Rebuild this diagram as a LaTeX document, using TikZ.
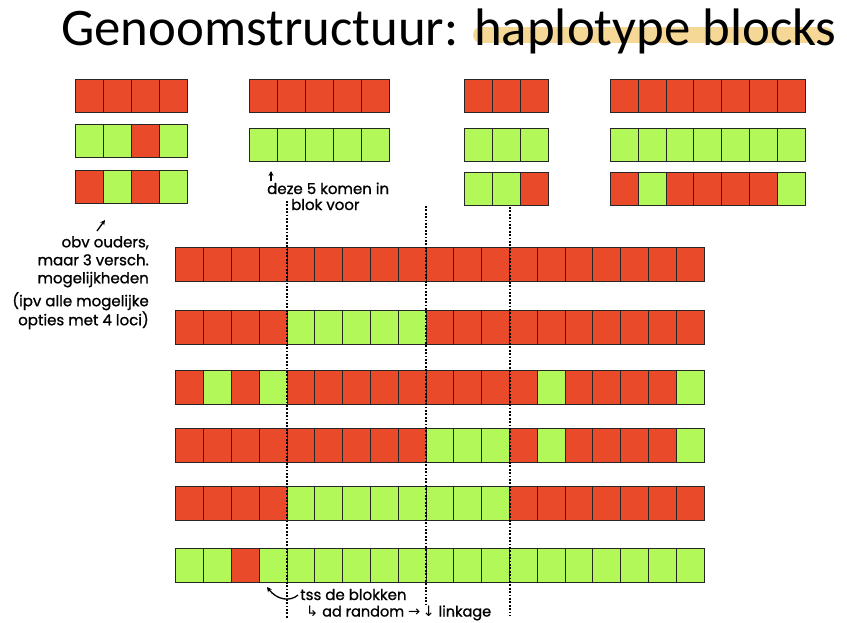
\documentclass[tikz,border=0pt]{standalone}
\usepackage{fontspec}
\setmainfont{Carlito}
\newfontfamily\hand{Poppins}[FakeBold=1]
\newfontfamily\symb{DejaVu Sans}
\usetikzlibrary{positioning}
\usetikzlibrary{arrows.meta}

\definecolor{hapred}{RGB}{233,74,41}
\definecolor{hapgreen}{RGB}{178,248,88}
\definecolor{marker}{RGB}{246,216,150}

\tikzset{
  cell/.style={draw=black!85, line width=0.9pt, minimum width=#1,
               minimum height=33pt, inner sep=0pt},
  cell/.default=27.8pt,
  cR/.style={cell=#1, fill=hapred},
  cG/.style={cell=#1, fill=hapgreen},
  cR/.default=27.8pt,
  cG/.default=27.8pt,
  note/.style={font=\hand\fontsize{15}{18}\selectfont, inner sep=0pt},
  cut/.style={line width=2pt, dash pattern=on 1.7pt off 1.7pt},
  scribble/.style={-{Stealth[length=5pt,width=5pt]}, line width=1.3pt},
}

\begin{document}
\begin{tikzpicture}[x=1pt,y=-1pt]
    \useasboundingbox[fill=white] (0,0) rectangle (847,622);

    % title with highlighter
    \draw[marker, line width=16pt, line cap=round] (481,35) -- (825,35);
    \node[anchor=base west, inner sep=0pt, font=\fontsize{52.8}{60}\selectfont]
        (title) at (61,45) {Genoomstructuur: haplotype blocks};

    % the parent blocks
    \foreach \y/\row [count=\r] in {96/{R,R,R,R}, 141/{G,G,R,G}, 186.5/{R,G,R,G}}
      \foreach \c [count=\i] in \row
        \node[c\c=28.05pt] (a\r c\i) at ({75+(\i-.5)*28.05},\y) {};

    \foreach \y/\row [count=\r] in {96/{R,R,R,R,R}, 144.5/{G,G,G,G,G}}
      \foreach \c [count=\i] in \row
        \node[c\c=28.05pt] (b\r c\i) at ({249+(\i-.5)*28.05},\y) {};

    \foreach \y/\row [count=\r] in {96/{R,R,R}, 144.5/{G,G,G}, 189/{G,G,R}}
      \foreach \c [count=\i] in \row
        \node[c\c=28.2pt] (c\r c\i) at ({464.3+(\i-.5)*28.2},\y) {};

    \foreach \y/\row [count=\r] in {96/{R,R,R,R,R,R,R}, 144.5/{G,G,G,G,G,G,G},
                                    189/{R,G,R,R,R,R,G}}
      \foreach \c [count=\i] in \row
        \node[c\c=27.86pt] (d\r c\i) at ({610.3+(\i-.5)*27.86},\y) {};

    % the haplotypes
    \foreach \y/\row [count=\r] in {
        264.5/{R,R,R,R,R,R,R,R,R,R,R,R,R,R,R,R,R,R,R},
        327/{R,R,R,R,G,G,G,G,G,R,R,R,R,R,R,R,R,R,R},
        387/{R,G,R,G,R,R,R,R,R,R,R,R,R,G,R,R,R,R,G},
        445/{R,R,R,R,R,R,R,R,R,G,G,G,R,G,R,R,R,R,G},
        503/{R,R,R,R,G,G,G,G,G,G,G,G,R,R,R,R,R,R,R},
        565/{G,G,R,G,G,G,G,G,G,G,G,G,G,G,G,G,G,G,G}}
      \foreach \c [count=\i] in \row
        \node[c\c, minimum height=34pt] (h\r c\i) at ({175.8+(\i-.5)*27.8},\y) {};

    % block borders
    \coordinate (cut1 top) at (287,201);
    \coordinate (cut1 bot) at (287,618);
    \coordinate (cut2 top) at (426,206);
    \coordinate (cut2 bot) at (426,604);
    \coordinate (cut3 top) at (510,207);
    \coordinate (cut3 bot) at (510,616);
    \draw[cut] (cut1 top) -- (cut1 bot);
    \draw[cut] (cut2 top) -- (cut2 bot);
    \draw[cut] (cut3 top) -- (cut3 bot);

    % notes
    \node[note, anchor=base west] (deze) at (267,194) {deze 5 komen in};
    \node[note, anchor=base west] (blok) at (291,210) {blok voor};
    \coordinate (deze tip) at (271,171);
    \draw[scribble] ([xshift=4pt,yshift=1pt]deze.north west) -- (deze tip);

    \coordinate (obv tail) at (97,231);
    \coordinate (obv tip) at (105,220);
    \draw[scribble] (obv tail) -- (obv tip);
    \node[note, align=right, anchor=north east] (obv) at (149,236)
        {obv ouders,\\maar 3 versch.\\mogelijkheden};
    \node[note, align=right, anchor=north east] (ipv) at (149,292)
        {(ipv alle mogelijke\\opties met 4 loci)};

    \node[note, anchor=base west] (tss) at (300,600) {tss de blokken};
    \node[note, anchor=base west, font=\hand\fontsize{14.5}{18}\selectfont] (adr)
        at (306,616.5) {{\symb ↳} ad random {\symb →}\,{\symb ↓} linkage};
    \coordinate (tss tip) at (267,587);
    \draw[scribble] ([xshift=-2pt,yshift=5pt]tss.base west)
        .. controls (290,602) and (277,600) .. (tss tip);
\end{tikzpicture}
\end{document}
